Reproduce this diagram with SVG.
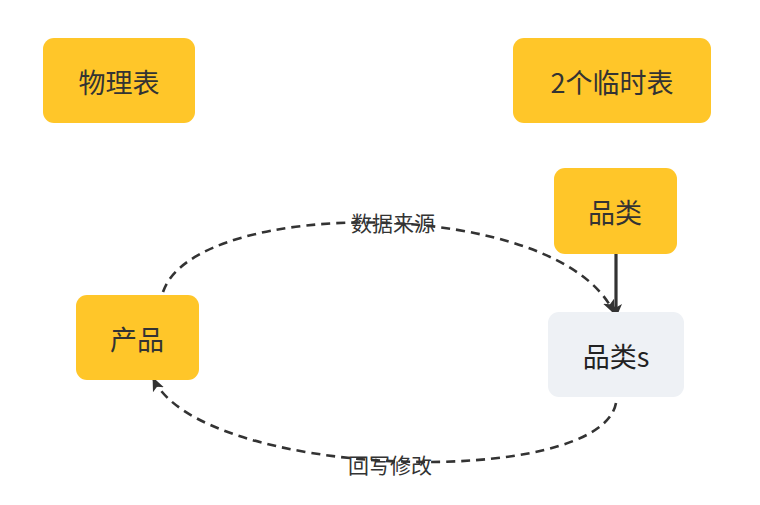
<svg xmlns="http://www.w3.org/2000/svg" width="760" height="505" viewBox="0 0 760 505">
<style>
.y{fill:#FFC629}
.g{fill:#EEF1F5}
.t{font-family:"Noto Sans CJK SC","Noto Sans",sans-serif;font-size:27px;fill:#333;text-anchor:middle;dominant-baseline:central}
.l{font-family:"Noto Sans CJK SC","Noto Sans",sans-serif;font-size:21px;fill:#333;text-anchor:middle;dominant-baseline:central}
.d{fill:none;stroke:#333;stroke-width:2.6;stroke-dasharray:9 6}
.s{fill:none;stroke:#333;stroke-width:3.2}
</style>
<defs>
<marker id="a" viewBox="0 0 14 14" refX="13" refY="7" markerWidth="14" markerHeight="14" markerUnits="userSpaceOnUse" orient="auto">
<path d="M0,1 L14,7 L0,13 L3.5,7 Z" fill="#333"/>
</marker>
</defs>
<rect width="760" height="505" fill="#fff"/>
<g id="connectors">
<path class="s" d="M616,254 L616,317" marker-end="url(#a)"/>
<path class="d" d="M163,292 C195,196 560,196 614,313" marker-end="url(#a)"/>
<path class="d" d="M616,403 C600,490 200,480 153,378" marker-end="url(#a)"/>
<text class="l" x="393" y="222">数据来源</text>
<text class="l" x="390" y="464">回写修改</text>
</g>
<g id="n1"><rect class="y" x="43" y="38" width="152" height="85" rx="11"/><text class="t" x="119" y="81">物理表</text></g>
<g id="n2"><rect class="y" x="513" y="38" width="198" height="85" rx="11"/><text class="t" x="612" y="81">2个临时表</text></g>
<g id="n3"><rect class="y" x="554" y="168" width="123" height="86" rx="11"/><text class="t" x="615" y="211">品类</text></g>
<g id="n4"><rect class="y" x="76" y="295" width="123" height="85" rx="11"/><text class="t" x="137" y="338">产品</text></g>
<g id="n5"><rect class="g" x="548" y="312" width="136" height="85" rx="11"/><text class="t" x="616" y="355" style="fill:#222">品类s</text></g>
</svg>
